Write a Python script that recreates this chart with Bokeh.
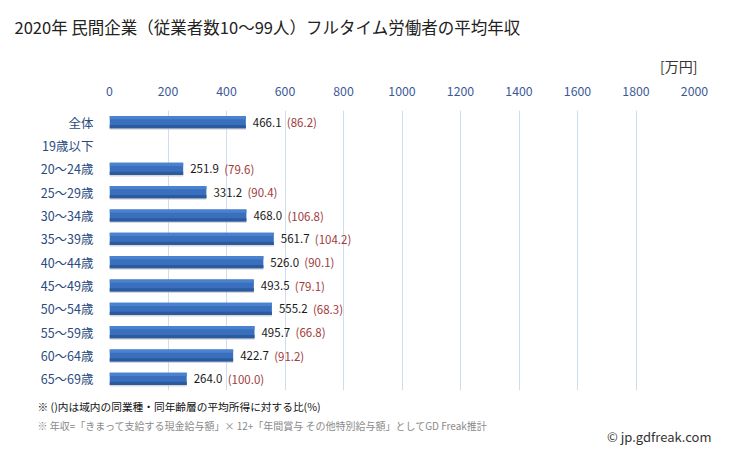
from bokeh.plotting import figure
from bokeh.models import ColumnDataSource, Title, FixedTicker, Range1d, FactorRange
from bokeh.core.properties import value
from bokeh.transform import dodge
from bokeh.embed import file_html
from bokeh.resources import INLINE

categories = ["全体", "19歳以下", "20～24歳", "25～29歳", "30～34歳", "35～39歳", "40～44歳",
              "45～49歳", "50～54歳", "55～59歳", "60～64歳", "65～69歳"]
incomes = [466.1, None, 251.9, 331.2, 468.0, 561.7, 526.0, 493.5, 555.2, 495.7, 422.7, 264.0]
ratios = [86.2, None, 79.6, 90.4, 106.8, 104.2, 90.1, 79.1, 68.3, 66.8, 91.2, 100.0]
x_ticks = [0, 200, 400, 600, 800, 1000, 1200, 1400, 1600, 1800, 2000]

FONT = "Noto Sans CJK JP"

W, H = 729, 451
p = figure(width=W, height=H, output_backend="svg", toolbar_location=None,
           x_range=Range1d(0, 2000), y_range=FactorRange(*reversed(categories)),
           x_axis_location="above", min_border_left=109, min_border_right=35,
           min_border_top=110, min_border_bottom=61)
p.outline_line_color = None
p.background_fill_color = "white"
p.border_fill_color = "white"

xa = p.xaxis[0]
xa.ticker = FixedTicker(ticks=x_ticks)
xa.axis_line_color = None
xa.major_tick_line_color = None
xa.minor_tick_line_color = None
xa.major_label_text_font = FONT
xa.major_label_text_font_size = "12.3px"
xa.major_label_text_color = "#3b5998"
xa.major_label_standoff = 9

ya = p.yaxis[0]
ya.axis_line_color = None
ya.major_tick_line_color = None
ya.minor_tick_line_color = None
ya.major_label_text_font = FONT
ya.major_label_text_font_size = "12.5px"
ya.major_label_text_color = "#2a4a80"
ya.major_label_standoff = 10

p.xgrid.grid_line_color = "#d0ddee"
p.ygrid.grid_line_color = None

cats_v, inc_v, val_txt, rat_txt, rat_off = [], [], [], [], []
for c, v, r in zip(categories, incomes, ratios):
    if v is None:
        continue
    cats_v.append(c)
    inc_v.append(v)
    vt = f"{v:.1f}"
    val_txt.append(vt)
    rat_txt.append(f"({r:.1f})")
    rat_off.append(7 + len(vt) * 6.0 + 4)

src = ColumnDataSource(dict(cat=cats_v, inc=inc_v, vt=val_txt, rt=rat_txt, ro=rat_off))

# soft shadow under each bar
p.hbar(y=dodge("cat", -0.29, range=p.y_range), right="inc", left=0, height=0.07, source=src,
       fill_color="#c8c8c8", fill_alpha=0.7, line_color=None)
# bar body with a lighter top and a darker bottom
p.hbar(y="cat", right="inc", left=0, height=0.52, source=src,
       fill_color="#3a6fbd", line_color=None)
p.hbar(y=dodge("cat", 0.19, range=p.y_range), right="inc", left=0, height=0.14, source=src,
       fill_color="#4a82cf", line_color=None)
p.hbar(y=dodge("cat", -0.19, range=p.y_range), right="inc", left=0, height=0.14, source=src,
       fill_color="#2c5a9f", line_color=None)

p.text(x="inc", y="cat", text="vt", source=src, x_offset=7,
       text_font=value(FONT), text_font_size="11.5px", text_color="#1a1a1a",
       text_baseline="middle", text_align="left")
p.text(x="inc", y="cat", text="rt", source=src, x_offset="ro",
       text_font=value(FONT), text_font_size="11.5px", text_color="#a03c3c",
       text_baseline="middle", text_align="left")

# texts outside the plotting area, stacked from the frame outward
p.add_layout(Title(text="[万円]", align="right", offset=-3, standoff=16,
                   text_font=FONT, text_font_size="14px", text_color="#333333",
                   text_font_style="normal"), "above")
p.add_layout(Title(text="2020年 民間企業（従業者数10～99人）フルタイム労働者の平均年収",
                   align="left", offset=-95, standoff=14,
                   text_font=FONT, text_font_size="16.5px", text_color="#222222",
                   text_font_style="normal"), "above")

p.add_layout(Title(text="※ ()内は域内の同業種・同年齢層の平均所得に対する比(%)",
                   align="left", offset=-72, standoff=13,
                   text_font=FONT, text_font_size="10.7px", text_color="#111111",
                   text_font_style="normal"), "below")
p.add_layout(Title(text="※ 年収=「きまって支給する現金給与額」× 12+「年間賞与 その他特別給与額」としてGD Freak推計",
                   align="left", offset=-72, standoff=-10,
                   text_font=FONT, text_font_size="10px", text_color="#8a8a8a",
                   text_font_style="normal"), "below")
p.add_layout(Title(text="© jp.gdfreak.com", align="right", offset=-17, standoff=-5,
                   text_font=FONT, text_font_size="13px", text_color="#333333",
                   text_font_style="normal"), "below")

open("out.html", "w").write(file_html(p, INLINE))
